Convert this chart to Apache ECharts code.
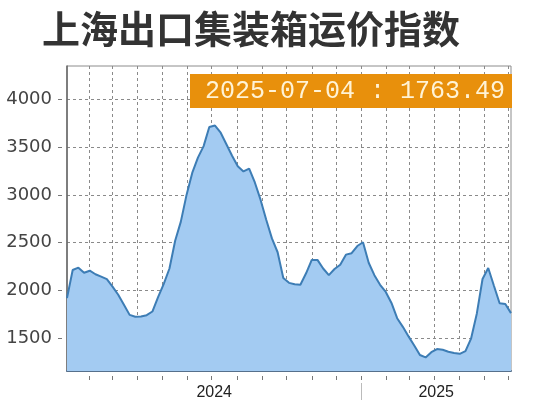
<!DOCTYPE html>
<html><head><meta charset="utf-8">
<script src="https://cdn.jsdelivr.net/npm/echarts@6/dist/echarts.min.js"></script>
<style>html,body{margin:0;padding:0;background:#fff}#c{width:537px;height:403px}</style>
</head><body><div id="c"></div>
<script>
const titleText = '上海出口集装箱运价指数';
const dates = [
 '2024-01-05','2024-01-12','2024-01-19','2024-01-26','2024-02-02','2024-02-09','2024-02-16','2024-02-23',
 '2024-03-01','2024-03-08','2024-03-15','2024-03-22','2024-03-29','2024-04-05','2024-04-12','2024-04-19',
 '2024-04-26','2024-05-03','2024-05-10','2024-05-17','2024-05-24','2024-05-31','2024-06-07','2024-06-14',
 '2024-06-21','2024-06-28','2024-07-05','2024-07-12','2024-07-19','2024-07-26','2024-08-02','2024-08-09',
 '2024-08-16','2024-08-23','2024-08-30','2024-09-06','2024-09-13','2024-09-20','2024-09-27','2024-10-04',
 '2024-10-11','2024-10-18','2024-10-25','2024-11-01','2024-11-08','2024-11-15','2024-11-22','2024-11-29',
 '2024-12-06','2024-12-13','2024-12-20','2024-12-27','2025-01-03','2025-01-10','2025-01-17','2025-01-24',
 '2025-01-31','2025-02-07','2025-02-14','2025-02-21','2025-02-28','2025-03-07','2025-03-14','2025-03-21',
 '2025-03-28','2025-04-04','2025-04-11','2025-04-18','2025-04-25','2025-05-02','2025-05-09','2025-05-16',
 '2025-05-23','2025-05-30','2025-06-06','2025-06-13','2025-06-20','2025-06-27','2025-07-04'
];
const values = [
 1920,2214,2239,2185,2207,2170,2145,2118,
 2040,1955,1850,1745,1726,1728,1742,1780,
 1930,2070,2230,2520,2720,3000,3230,3390,
 3510,3710,3725,3650,3530,3410,3300,3245,
 3275,3130,2950,2740,2545,2400,2130,2080,
 2065,2060,2180,2320,2320,2230,2160,2225,
 2270,2375,2390,2465,2505,2290,2160,2060,
 1985,1870,1710,1620,1520,1425,1325,1300,
 1355,1388,1380,1360,1347,1338,1365,1500,
 1760,2120,2235,2050,1866,1858,1763.49
];
const yTicks = [1500, 2000, 2500, 3000, 3500, 4000];
const monthTicks = [
 '2024-02-01','2024-03-01','2024-04-01','2024-05-01','2024-06-01','2024-07-01','2024-08-01','2024-09-01',
 '2024-10-01','2024-11-01','2024-12-01','2025-01-01','2025-02-01','2025-03-01','2025-04-01','2025-05-01',
 '2025-06-01','2025-07-01'
];
const yearLabels = [2024, 2025];
const yearDividers = ['2025-01-01'];

const ts = s => new Date(s + 'T00:00:00Z').getTime();
const xs = dates.map(ts);
const xMin = xs[0], xMax = xs[xs.length - 1];
const data = xs.map((x, i) => [x, values[i]]);
const monthVals = monthTicks.map(ts);
const yearMid = yearLabels.map(y => {
  const a = Math.max(xMin, Date.UTC(y, 0, 1));
  const b = Math.min(xMax, Date.UTC(y + 1, 0, 1));
  return (a + b) / 2;
});
const lastLabel = dates[dates.length - 1] + ' : ' + values[values.length - 1].toFixed(2);

const chart = echarts.init(document.getElementById('c'), null, {renderer: 'canvas'});
const baseX = {type: 'value', min: xMin, max: xMax, gridIndex: 0, position: 'bottom', scale: true};
const dash = {color: '#8a8a8a', type: [3, 3], width: 1};
chart.setOption({
  animation: false,
  backgroundColor: '#fff',
  grid: {left: 67, right: 26, top: 66, bottom: 32, show: true, borderColor: '#8c8c8c', borderWidth: 1, outerBoundsMode: 'none'},
  xAxis: [
    Object.assign({}, baseX, {
      axisLine: {show: true, onZero: false, lineStyle: {color: '#56708c', width: 2}},
      axisTick: {show: false, customValues: monthVals},
      axisLabel: {show: false},
      splitLine: {show: true, lineStyle: dash}
    }),
    Object.assign({}, baseX, {
      offset: 5,
      axisLine: {show: false},
      axisTick: {show: true, length: 4, customValues: monthVals, lineStyle: {color: '#777', width: 1}},
      axisLabel: {show: false},
      splitLine: {show: false}
    }),
    Object.assign({}, baseX, {
      offset: 12,
      axisLine: {show: false},
      axisTick: {show: true, length: 17, customValues: yearDividers.map(ts), lineStyle: {color: '#bbb', width: 1}},
      axisLabel: {show: true, customValues: yearMid, margin: 2, formatter: v => String(new Date(v).getUTCFullYear()),
        fontFamily: 'Liberation Sans', fontSize: 16, color: '#222'},
      splitLine: {show: false}
    })
  ],
  yAxis: [
    {
      type: 'value', min: 1158, max: 4348,
      axisLine: {show: true, onZero: false, lineStyle: {color: '#666', width: 1.5}},
      axisTick: {show: false, customValues: yTicks},
      axisLabel: {show: false},
      splitLine: {show: true, lineStyle: dash}
    },
    {
      type: 'value', min: 1158, max: 4348, position: 'left', offset: 5,
      axisLine: {show: false},
      axisTick: {show: true, length: 4, customValues: yTicks, lineStyle: {color: '#777', width: 1}},
      axisLabel: {show: true, customValues: yTicks, margin: 10, formatter: v => String(v),
        fontFamily: 'DejaVu Sans', fontSize: 18, color: '#444'},
      splitLine: {show: false}
    }
  ],
  series: [{
    type: 'line',
    data: data,
    xAxisIndex: 0, yAxisIndex: 0,
    showSymbol: false, symbol: 'none',
    lineStyle: {color: '#3d7db5', width: 2},
    areaStyle: {color: '#a3cbf2', opacity: 1, origin: 'start'}
  }],
  graphic: [
    {type: 'text', x: 251, y: 29, style: {text: titleText, font: 'bold 38px "Noto Sans CJK SC"', fill: '#333', align: 'center', verticalAlign: 'middle'}},
    {type: 'rect', shape: {x: 190, y: 74, width: 322, height: 34}, style: {fill: '#e8900c'}, z: 100},
    {type: 'text', x: 355, y: 91, z: 101, style: {text: lastLabel, font: '25px "Liberation Mono"', fill: '#fff3d6', align: 'center', verticalAlign: 'middle'}}
  ]
});
</script>
</body></html>
